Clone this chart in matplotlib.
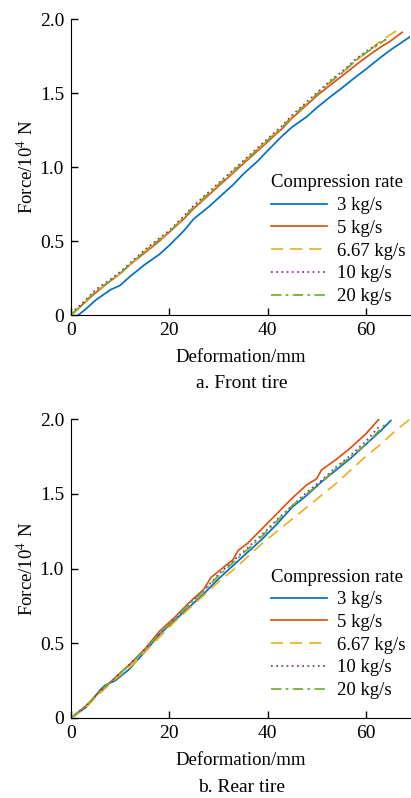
import numpy as np
import matplotlib
matplotlib.use("Agg")
import matplotlib.pyplot as plt
from matplotlib.ticker import FixedLocator, FuncFormatter

plt.rcParams['font.family'] = ['Liberation Serif', 'DejaVu Serif']
plt.rcParams['mathtext.fontset'] = 'stix'

RATES = ["3 kg/s", "5 kg/s", "6.67 kg/s", "10 kg/s", "20 kg/s"]
COLORS = ["#0072BD", "#D95319", "#EDB120", "#7E2F8E", "#77AC30"]
STYLES = ["-", "-", (0, (7, 4)), (0, (1, 2)), (0, (6, 2.5, 1.5, 2.5))]

# front tire (deformation mm, force 10^4 N)
front_x_3 = [1.5, 3, 5, 8, 10, 12, 15, 18, 20, 23, 25, 28, 30, 33, 35, 38, 40,
             43, 45, 48, 50, 53, 55, 58, 60, 63, 65, 69]
front_y_3 = [0, 0.04, 0.10, 0.17, 0.20, 0.26, 0.34, 0.41, 0.47, 0.57, 0.65, 0.73,
             0.79, 0.88, 0.95, 1.04, 1.11, 1.21, 1.27, 1.34, 1.40, 1.48, 1.53,
             1.61, 1.66, 1.74, 1.79, 1.88]
front_x_5 = [0, 2, 5, 8, 10, 12, 15, 18, 20, 23, 25, 28, 30, 33, 35, 38, 40,
             43, 45, 48, 50, 53, 55, 58, 60, 63, 65, 67.4]
front_y_5 = [0, 0.06, 0.15, 0.23, 0.28, 0.34, 0.42, 0.50, 0.56, 0.65, 0.72, 0.81,
             0.87, 0.96, 1.02, 1.11, 1.17, 1.26, 1.33, 1.42, 1.48, 1.56, 1.61,
             1.69, 1.74, 1.81, 1.85, 1.91]
front_x_667 = [0, 2, 5, 8, 10, 12, 15, 18, 20, 23, 25, 28, 30, 33, 35, 38, 40,
               43, 45, 48, 50, 53, 55, 58, 60, 63, 66.2]
front_y_667 = [0, 0.06, 0.16, 0.23, 0.28, 0.34, 0.43, 0.51, 0.56, 0.66, 0.73, 0.82,
               0.88, 0.97, 1.03, 1.12, 1.18, 1.27, 1.34, 1.43, 1.49, 1.58, 1.63,
               1.72, 1.77, 1.85, 1.92]
front_x_10 = [0, 2, 5, 8, 10, 12, 15, 18, 20, 23, 25, 28, 30, 33, 35, 38, 40,
              43, 45, 48, 50, 53, 55, 58, 60, 64.5]
front_y_10 = [0.01, 0.07, 0.17, 0.24, 0.29, 0.35, 0.44, 0.52, 0.57, 0.67, 0.74, 0.83,
              0.89, 0.98, 1.04, 1.13, 1.19, 1.28, 1.35, 1.44, 1.50, 1.59, 1.64,
              1.73, 1.78, 1.87]
front_x_20 = [0, 2, 5, 8, 10, 12, 15, 18, 20, 23, 25, 28, 30, 33, 35, 38, 40,
              43, 45, 48, 50, 53, 55, 58, 60, 64]
front_y_20 = [0, 0.06, 0.16, 0.23, 0.28, 0.34, 0.43, 0.51, 0.56, 0.66, 0.73, 0.82,
              0.88, 0.97, 1.03, 1.12, 1.18, 1.27, 1.34, 1.43, 1.49, 1.58, 1.63,
              1.72, 1.77, 1.86]

# rear tire
rear_x_3 = [0, 3, 6, 7, 9, 12, 13, 15, 18, 21, 24, 27, 30, 33, 36, 39, 42, 45,
            48, 51, 54, 57, 60, 63, 65.1]
rear_y_3 = [0, 0.07, 0.19, 0.22, 0.25, 0.33, 0.37, 0.44, 0.56, 0.65, 0.74, 0.83,
            0.93, 1.02, 1.11, 1.20, 1.30, 1.41, 1.49, 1.58, 1.66, 1.74, 1.83, 1.92,
            1.99]
rear_x_5 = [0, 3, 6, 9, 12, 15, 18, 21, 24, 27, 28.5, 30, 33, 34, 36, 39, 42, 45,
            48, 50, 51, 54, 57, 60, 62.7]
rear_y_5 = [0, 0.08, 0.18, 0.27, 0.36, 0.46, 0.58, 0.67, 0.77, 0.86, 0.94, 0.98,
            1.06, 1.12, 1.17, 1.27, 1.37, 1.47, 1.56, 1.60, 1.66, 1.73, 1.81, 1.90,
            2.0]
rear_x_667 = [0, 3, 6, 9, 12, 15, 18, 21, 24, 27, 30, 33, 36, 39, 42, 45, 48, 51,
              54, 57, 60, 63, 66, 69]
rear_y_667 = [0, 0.07, 0.17, 0.26, 0.34, 0.44, 0.54, 0.64, 0.73, 0.82, 0.91, 0.99,
              1.08, 1.17, 1.25, 1.33, 1.41, 1.49, 1.57, 1.66, 1.75, 1.83, 1.92, 2.0]
rear_x_10 = [0, 3, 6, 9, 12, 15, 18, 21, 24, 27, 30, 33, 36, 39, 42, 45, 48, 51,
             54, 57, 60, 63]
rear_y_10 = [0, 0.08, 0.18, 0.27, 0.36, 0.46, 0.56, 0.66, 0.76, 0.85, 0.96, 1.05,
             1.14, 1.23, 1.33, 1.42, 1.51, 1.59, 1.68, 1.76, 1.85, 1.96]
rear_x_20 = [0, 3, 6, 9, 12, 15, 18, 21, 24, 27, 30, 33, 36, 39, 42, 45, 48, 51,
             54, 57, 60, 64.4]
rear_y_20 = [0, 0.08, 0.18, 0.27, 0.36, 0.46, 0.56, 0.66, 0.76, 0.85, 0.95, 1.04,
             1.13, 1.22, 1.32, 1.42, 1.50, 1.58, 1.67, 1.75, 1.83, 1.98]

X_TICKS = [0, 20, 40, 60]
Y_TICKS = [0, 0.5, 1.0, 1.5, 2.0]

front = [(front_x_3, front_y_3), (front_x_5, front_y_5), (front_x_667, front_y_667),
         (front_x_10, front_y_10), (front_x_20, front_y_20)]
rear = [(rear_x_3, rear_y_3), (rear_x_5, rear_y_5), (rear_x_667, rear_y_667),
        (rear_x_10, rear_y_10), (rear_x_20, rear_y_20)]


def draw(ax, series, leg_top):
    for (x, y), lab, c, ls in zip(series, RATES, COLORS, STYLES):
        ax.plot(x, y, color=c, linestyle=ls, lw=1.25, label=lab)
    ax.set_xlim(0, 69)
    ax.set_ylim(0, 2.0)
    ax.spines['top'].set_visible(False)
    ax.spines['right'].set_visible(False)
    ax.xaxis.set_major_locator(FixedLocator(X_TICKS))
    ax.yaxis.set_major_locator(FixedLocator(Y_TICKS))
    ax.yaxis.set_major_formatter(FuncFormatter(lambda v, p: "0" if v == 0 else f"{v:.1f}"))
    ax.tick_params(direction='in', length=5, width=1, labelsize=14, pad=5)
    ax.set_xlabel("Deformation/mm", fontsize=13.5, labelpad=7)
    ax.set_ylabel(r"Force/10$^{4}$ N", fontsize=13.5, labelpad=2)
    leg = ax.legend(title="Compression rate", loc='upper left',
                    bbox_to_anchor=(0.59, leg_top), frameon=False, fontsize=13.5,
                    title_fontsize=13.5, handlelength=3.0, handletextpad=0.5,
                    labelspacing=0.3, borderpad=0, borderaxespad=0,
                    alignment='left')
    return leg


fig = plt.figure(figsize=(4.11, 7.98), dpi=100)
ax1 = fig.add_axes([71 / 411, 1 - 315 / 798, 339 / 411, 296 / 798])
ax2 = fig.add_axes([71 / 411, 1 - 718 / 798, 339 / 411, 299 / 798])
draw(ax1, front, 0.475)
draw(ax2, rear, 0.50)

fig.text(242 / 411, 1 - 383 / 798, "a. Front tire", ha='center', va='center', fontsize=14)
fig.text(242 / 411, 1 - 787 / 798, "b. Rear tire", ha='center', va='center', fontsize=14)

fig.savefig("out.png", dpi=100)
